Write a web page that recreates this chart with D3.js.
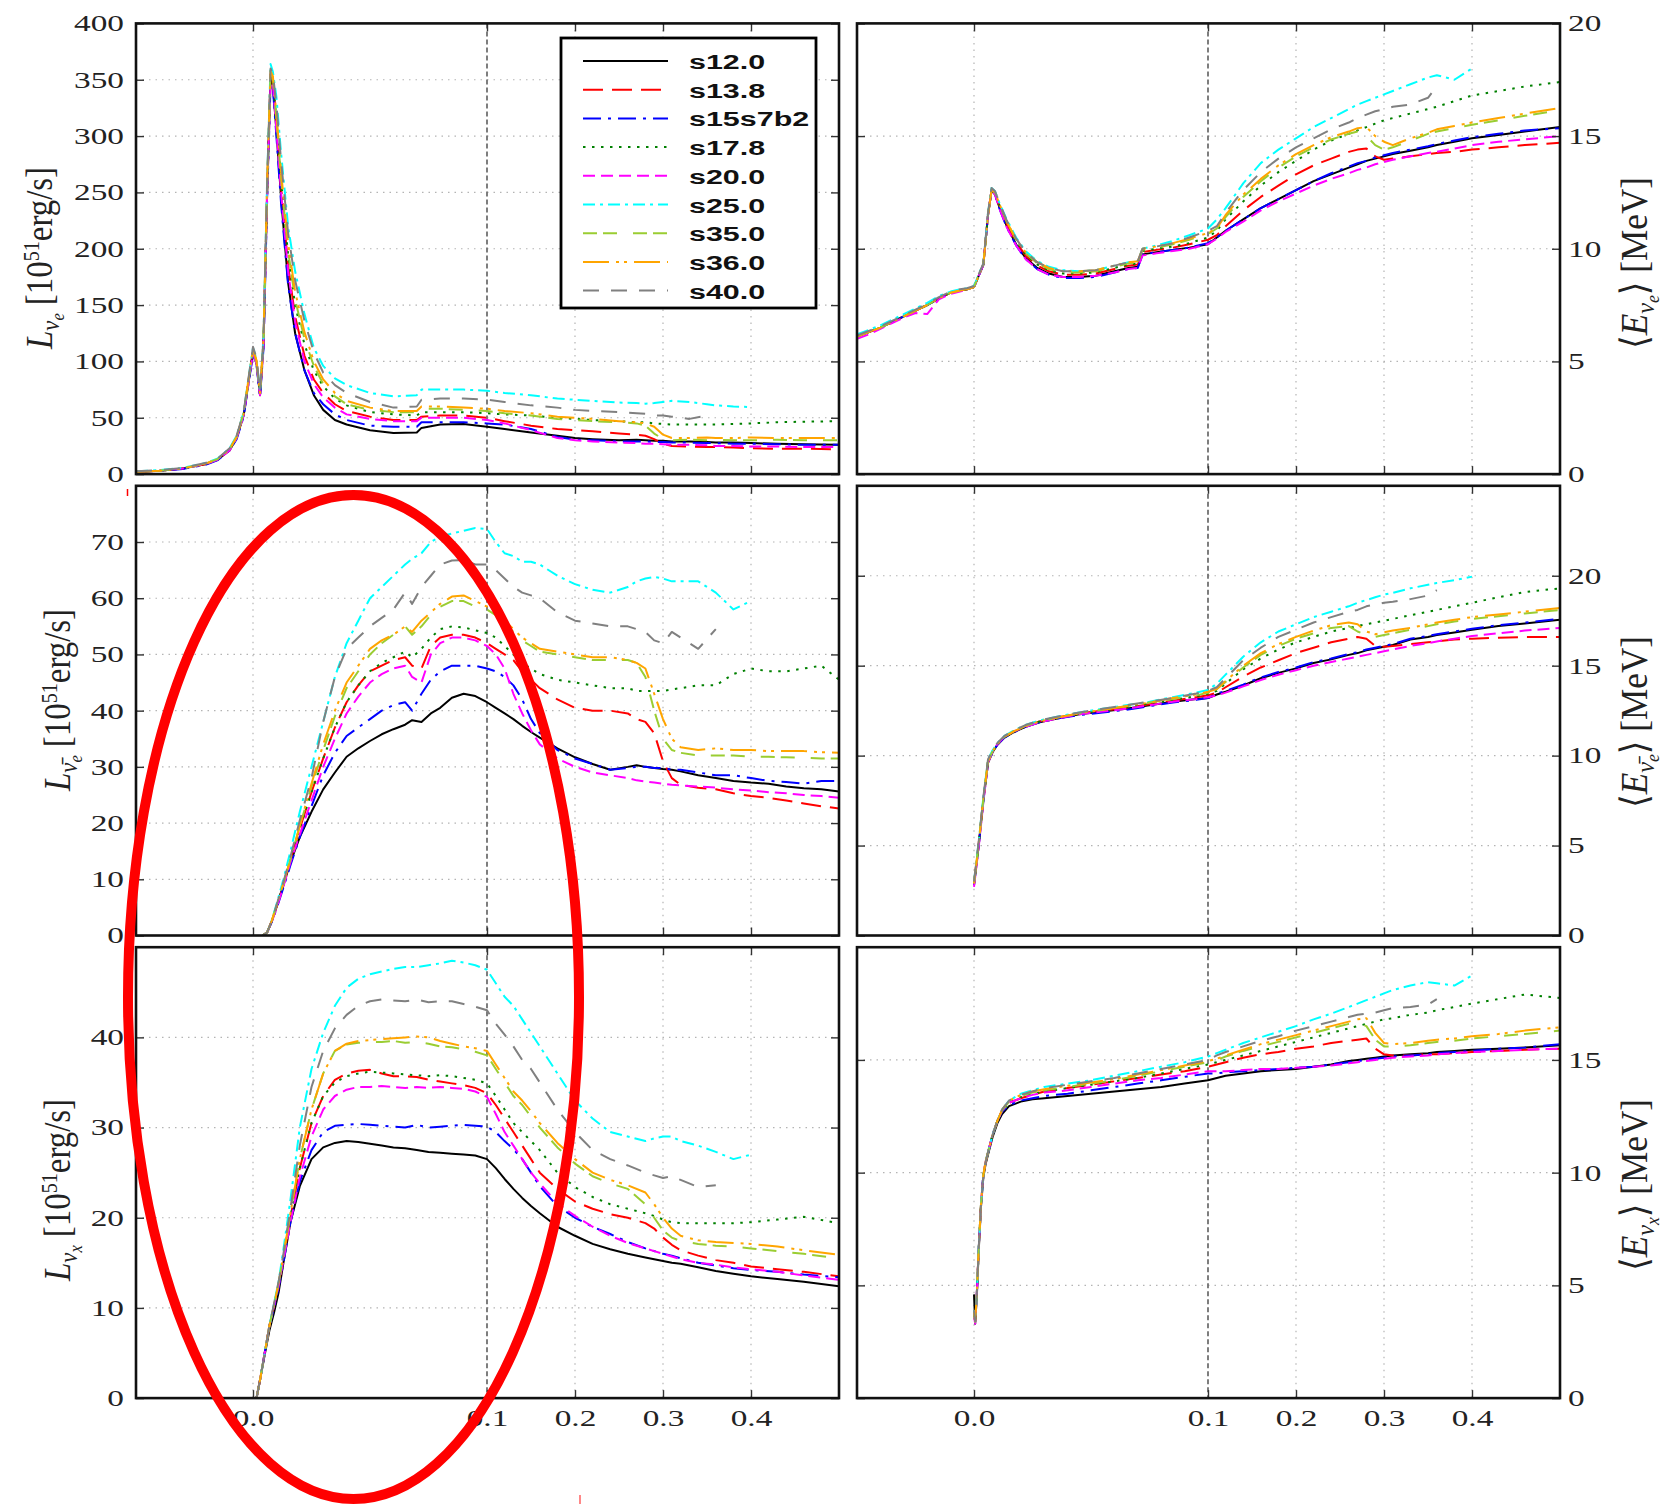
<!DOCTYPE html>
<html><head><meta charset="utf-8">
<script src="https://cdn.jsdelivr.net/npm/d3@7"></script>
<style>body{margin:0;background:#fff}</style>
</head><body>
<svg id="chart" width="1667" height="1504" xmlns="http://www.w3.org/2000/svg"></svg>
<script>
// ---------------- series meta ----------------
const seriesNames  = ["s12.0","s13.8","s15s7b2","s17.8","s20.0","s25.0","s35.0","s36.0","s40.0"];
const seriesColors = ["#000000","#ff0000","#0000ff","#008000","#ff00ff","#00ffff","#9acd32","#ffa500","#808080"];
const seriesDashes = ["none","20,9","18,7,3,7","2.5,6.5","12,6","12,5,3,5","14,6,14,16","26,7,3,5,3,7","16,12"];

// ---------------- tick labels ----------------
const xTickValues = [0.0, 0.1, 0.2, 0.3, 0.4];
const yTicksLumE = [0,50,100,150,200,250,300,350,400];
const yTicksLumA = [0,10,20,30,40,50,60,70];
const yTicksLumX = [0,10,20,30,40];
const yTicksEnE  = [0,5,10,15,20];
const yTicksEnA  = [0,5,10,15,20];
const yTicksEnX  = [0,5,10,15];

// ---------------- L_nu_e (top left) ----------------
const timeLumE = [-0.05,-0.04,-0.03,-0.02,-0.015,-0.01,-0.007,-0.004,-0.002,0,0.0015,0.003,0.0045,0.006,0.0075,0.0085,
  0.01,0.012,0.015,0.018,0.022,0.026,0.03,0.035,0.04,0.05,0.06,0.07,0.072,0.08,0.09,0.1,0.12,0.15,0.18,0.2,
  0.22,0.25,0.27,0.28,0.29,0.3,0.31,0.33,0.35,0.36,0.38,0.4,0.43,0.46,0.5];
const lumE_s12 = [2,3,5,9,13,21,32,52,80,108,98,70,115,245,350,345, 305,245,170,125,92,70,57,48,44,39,36.5,37,41,44,44.5,42,40,37,34,32,31,30,30.5,30,29.5,29.5,29,29,28.5,28,28,27.5,27,26.5,26];
const lumE_s13 = [2,3,5,9,13.5,22,33,53,82,110,100,71,118,250,355,350, 312,255,185,140,105,84,72,62,56,51,48,48,51,52,52,50,47,43,40,39,38,36,35,34,31,27,25,24.5,24,24,23.5,23,22.5,22.5,22];
const lumE_s15 = [2,3,4.5,8.5,12.5,21,31,51,79,106,97,68,112,240,345,342, 300,240,168,125,92,72,62,53,48,43,42,42,46,46,46,45,44,40,33,30.5,30,29,29,29,28.5,28.5,28,28,27.5,27.5,27,27,26.5,26,26];
const lumE_s17 = [2,3,5,9,13,22,33,53,81,109,99,71,117,248,353,349, 315,260,195,150,115,92,78,67,61,55,53,52,55,55,55,54,53,52,50,49,48,47,46,46,45,44.5,44,44,44,44,44.5,45,46,46.5,47];
const lumE_s20 = [2,3,5,9,13,21,32,52,80,107,98,70,114,244,348,346, 305,250,180,135,100,80,68,59,53,49,47,47,50,50,50,48,45,39,32,30,29,28,27.5,27,27,26.5,26,26,25.5,25,25,24.5,24.5,24,24];
const lumE_s25 = [2.5,3.5,5.5,10,14,23,34,55,84,112,102,73,122,258,364,357, 335,285,220,180,142,112,96,85,79,72,69,70,75,75,75,74,72,70,67,66,65,63.5,63,62.5,63,64,65,64,62,61,60,59.5,null,null,null];
const lumE_s35 = [2,3,5,9.5,13.5,22,33,54,82,110,100,72,119,252,357,352, 315,262,198,155,120,96,80,69,62,57,55,55,58,58,57,56,54,52,49,48,47,46,45,43,36,31,30,30.5,30,30.5,30,30,30.5,30,30];
const lumE_s36 = [2,3,5,9.5,13.5,22,33,54,83,111,101,72,120,254,358,353, 320,268,205,162,126,100,84,72,65,59,56,56,60,60,59,58,56,54,51,50,49,47,46,45,42,35,32,32,32.5,32,32,32.5,32,32,32];
const lumE_s40 = [2.5,3.5,5.5,10,14,23,34,55,84,113,103,73,121,256,360,355, 328,278,214,172,136,108,90,79,72,64,59,60,66,67,67,66,64,61,59,57,56,55,54,53.5,52,52,51,49,52,null,null,null,null,null,null];

// ---------------- L_anti-nu_e (middle left) ----------------
const timeLumA = [0.004,0.006,0.008,0.01,0.013,0.016,0.02,0.025,0.03,0.035,0.04,0.045,0.05,0.055,0.06,0.065,0.068,0.072,0.076,0.08,0.085,0.09,0.095,0.1,
  0.11,0.12,0.13,0.14,0.15,0.16,0.18,0.2,0.22,0.24,0.26,0.27,0.28,0.29,0.3,0.31,0.32,0.34,0.36,0.38,0.4,0.42,0.44,0.46,0.48,0.5];
const lumA_s12 = [0,0.5,2.5,5,9,13,17.5,22,26,29,31.8,33.3,34.6,35.8,36.7,37.5,38.3,38,39.5,40.5,42.3,43,42.6,41.5, 40.5,39.5,38.5,37.3,36.2,35.2,33.3,31.7,30.5,29.5,30,30.3,30,29.8,29.6,29.5,29.2,28.5,28,27.5,27.2,27,26.5,26.2,26,25.6];
const lumA_s13 = [0,0.5,2.5,5,9,13.5,19,25.5,31.5,37,41.5,44.5,47,48,49,49.5,48,47.5,51.5,53,53.5,53.5,53,52, 51,50,49,47,45.5,44,42,40.5,40,40,39.5,38.5,38,36,31,28,26.8,26.3,26,25.3,24.8,24.5,24,23.5,23,22.6];
const lumA_s15 = [0,0.5,2.4,4.7,8.5,12.5,17.5,23,28.5,32.5,35.5,37,38.5,40,41,41.5,40,43,45.5,47,48,48,48,47.5, 47,46,44.5,42,38.5,36,33,31.5,30.5,29.5,29.8,30,30,29.8,29.8,29.5,29.5,29,28.5,28.5,28,27.5,27.3,27,27.5,27.5];
const lumA_s17 = [0,0.5,2.5,5,9,13.5,19,25.5,31.5,37,41.5,44.5,47,48.5,49.5,50.5,49.5,51,53,54.5,55,54.8,54.3,53.8, 53,51.5,50,48.5,47.5,46.5,45.5,45,44.5,44,44,43.5,43.5,43.5,43.5,43.8,44,44.5,44.5,46.5,47.5,47,47,47.5,48,45.5];
const lumA_s20 = [0,0.5,2.4,4.8,8.7,13,18,24,30,35,39.5,42.5,45,46.5,47.5,48,46,45,50,52,53,53,52.5,51.5, 50,47.5,43,39.5,36.5,34,31.5,30,29,28.5,28,27.6,27.4,27.2,27,26.8,26.7,26.5,26.3,26,25.8,25.5,25.3,25,24.8,24.5];
const lumA_s25 = [0,0.5,2.7,5.5,10,15,22,30,38,46,52,56,60,62,64,66,67,68,70,71,71.5,72,72.5,72.3, 70,68,67.5,66.5,66.5,66,64,62.5,61.5,61,62,63,63.5,63.8,63.5,63,63,63,61,58,59.5,null,null,null,null,null];
const lumA_s35 = [0,0.5,2.6,5.2,9.3,13.5,19.5,26.5,33,39,44,47,50,52,53.5,55,53.5,55,57,58.5,59.5,59.5,58.5,58, 57,55.5,54,52.5,51.5,50.5,50,49.5,49,49,49,48.5,46,40,35,33,32.5,32,32,32,31.8,31.8,31.7,31.6,31.5,31.5];
const lumA_s36 = [0,0.5,2.6,5.2,9.3,13.5,19.5,27,34,40,45,48,51,52.5,53.5,55,54,56,57.5,59,60.3,60.5,59.5,58.5, 57.5,56,54.5,53,52,51,50.5,50,49.5,49.5,49,48.5,47.5,43,38.5,35,33.5,33,33.3,33,33,32.8,32.8,32.8,32.6,32.5];
const lumA_s40 = [0,0.5,2.6,5.3,9.5,14,20.5,28,38,46,51,53,55,56.5,58,61,59,62,64,66,66.7,66.8,66,66, 65,63.5,62,61,60.5,60,57.5,56,55.5,55,55,54.5,54,52.5,52,54,53,51,54.5,null,null,null,null,null,null,null];

// ---------------- L_nu_x (bottom left) ----------------
const timeLumX = [0.0015,0.003,0.005,0.007,0.009,0.011,0.013,0.016,0.02,0.025,0.03,0.035,0.04,0.045,0.05,0.055,0.06,0.065,0.07,0.075,0.08,0.085,0.09,0.095,0.1,
  0.11,0.12,0.13,0.14,0.15,0.16,0.18,0.2,0.22,0.24,0.26,0.28,0.29,0.3,0.31,0.32,0.34,0.36,0.38,0.4,0.43,0.46,0.5];
const lumX_s12 = [0,2,4.8,7.5,9.5,11.8,15,19.5,23.5,26.5,27.8,28.3,28.5,28.4,28.2,28,27.8,27.7,27.5,27.3,27.2,27.1,27,26.9,26.5,25.5,24.3,23.2,22.2,21.3,20.5,19,18,17.1,16.5,16,15.6,15.4,15.2,15,14.9,14.5,14.1,13.8,13.5,13.2,12.9,12.4];
const lumX_s13 = [0,2,5,8,10.3,12.7,15.5,20,25.5,30.5,33.5,35.3,36,36.3,36.4,36,35.7,35.7,35.6,35.3,35.1,34.9,34.7,34.4,33.8,32.5,31,29.5,28,26.5,25,23.2,21.8,21,20.4,20,19.4,18.8,17.8,17,16.4,15.8,15.3,15,14.6,14.3,14,13.5];
const lumX_s15 = [0,2,5,8,10,12.3,15,19.5,24,27.5,29.5,30.2,30.3,30.4,30.3,30.2,30.1,30,30.3,30,30.1,30.2,30.3,30.2,30.1,29.5,28.5,27.6,26.5,25,23.5,21.3,20,19,18.2,17.3,16.6,16.3,16,15.8,15.5,15,14.7,14.4,14.2,14,13.7,13.4];
const lumX_s17 = [0,2,5,8,10.3,12.7,15.5,20,25.5,30.5,33.5,35,35.7,36,36.2,36.1,36,35.9,35.8,35.7,35.8,35.7,35.5,35.3,34.9,33.5,32,30.5,29.5,28.5,27.5,25,23.4,22.3,21.5,21,20.5,20.2,19.8,19.5,19.4,19.4,19.4,19.4,19.5,19.8,20.1,19.4];
const lumX_s20 = [0,2,5,8,10.2,12.5,15.3,19.5,24.5,29,32,33.5,34.2,34.5,34.5,34.6,34.5,34.4,34.5,34.4,34.5,34.4,34.3,34,33.4,31.5,29.5,28,26.5,25,23.8,21.6,20.2,19,18,17.2,16.6,16.3,16,15.7,15.4,15,14.8,14.5,14.3,14,13.6,13.1];
const lumX_s25 = [0,2,5,8,10.5,13,16.5,22,30,36.5,40.5,43.5,45.5,46.5,47,47.3,47.6,47.8,47.8,48,48.2,48.5,48.3,48,47.5,46,44.5,43.5,42,40.5,39,36,33,31,29.5,29,28.5,28.8,29,29,28.5,28,27.3,26.5,27,null,null,null];
const lumX_s35 = [0,2,5,8,10.3,12.8,15.8,20.5,26.5,32,36,38.5,39.2,39.4,39.5,39.5,39.6,39.4,39.5,39.3,39,38.9,38.7,38.4,38,36.5,35,33.5,32.5,31.2,30,27.8,26,24.6,23.8,23.2,21.5,20,18.6,17.8,17.4,17.1,16.9,16.8,16.6,16.3,16,15.5];
const lumX_s36 = [0,2,5,8,10.3,12.8,15.8,20.5,26.5,32,36,38.5,39.3,39.6,39.7,39.8,39.9,40,40.1,40,39.6,39.3,39,38.8,38.5,37,35.5,34,33,31.8,30.5,28.3,26.5,25,24.2,23.6,22.8,21.5,20,18.8,18,17.5,17.3,17.2,17.1,16.8,16.4,15.9];
const lumX_s40 = [0,2,5,8,10.5,13,16,21,28,34.5,38.5,41,42.5,43.5,44,44.2,44.1,44,44.2,43.9,44,44,43.7,43.4,43,41.5,40.3,39,37.5,36.5,35,32,29.5,27.5,26.5,25.8,25,24.7,24.4,24.6,24.2,23.4,23.6,null,null,null,null,null];

// ---------------- <E_nu_e> (top right) ----------------
const timeEnE = [-0.05,-0.045,-0.04,-0.035,-0.03,-0.025,-0.02,-0.015,-0.01,-0.006,-0.003,0,0.002,0.004,0.006,0.0075,0.009,0.011,0.014,0.018,0.022,
  0.027,0.032,0.038,0.045,0.052,0.06,0.066,0.07,0.072,0.078,0.085,0.092,0.1,
  0.11,0.12,0.14,0.16,0.18,0.2,0.22,0.24,0.26,0.27,0.28,0.29,0.3,0.31,0.33,0.35,0.36,0.38,0.4,0.43,0.46,0.5];
const enE_s12 = [6.1,6.3,6.5,6.75,7.0,7.25,7.5,7.8,8.05,8.15,8.2,8.3,8.8,9.3,11.5,12.6,12.4,11.8,11.0,10.2,9.6,9.15,8.9,8.75,8.75,8.8,9.0,9.15,9.2,9.75,9.85,9.95,10.05,10.2,
  10.5,10.8,11.3,11.8,12.2,12.6,13.0,13.3,13.6,13.75,13.9,14.0,14.1,14.2,14.35,14.5,14.6,14.75,14.9,15.05,15.2,15.4];
const enE_s13 = [6.1,6.3,6.5,6.75,7.0,7.25,7.5,7.8,8.05,8.15,8.2,8.3,8.8,9.3,11.5,12.6,12.45,11.85,11.1,10.3,9.7,9.25,9.0,8.85,8.85,8.9,9.1,9.25,9.3,9.85,9.95,10.05,10.2,10.4,
  10.6,11.0,11.7,12.3,12.8,13.3,13.7,14.0,14.3,14.4,14.45,14.1,13.95,14.0,14.1,14.2,14.25,14.3,14.4,14.5,14.6,14.7];
const enE_s15 = [6.1,6.3,6.5,6.75,7.0,7.25,7.5,7.8,8.05,8.15,8.2,8.3,8.8,9.3,11.5,12.6,12.4,11.75,10.95,10.15,9.55,9.1,8.85,8.7,8.7,8.75,8.95,9.1,9.15,9.75,9.85,9.95,10.05,10.25,
  10.5,10.8,11.3,11.8,12.2,12.6,13.0,13.35,13.65,13.8,13.9,14.05,14.15,14.25,14.4,14.55,14.65,14.8,14.95,15.1,15.25,15.35];
const enE_s17 = [6.1,6.3,6.5,6.75,7.0,7.25,7.5,7.8,8.05,8.15,8.2,8.3,8.8,9.3,11.5,12.6,12.45,11.9,11.15,10.35,9.75,9.3,9.05,8.9,8.9,8.95,9.15,9.3,9.35,9.9,10.0,10.1,10.25,10.5,
  10.8,11.3,12.1,12.8,13.4,13.9,14.4,14.8,15.1,15.25,15.4,15.55,15.7,15.8,16.0,16.2,16.3,16.55,16.8,17.0,17.2,17.4];
const enE_s20 = [6.0,6.2,6.45,6.7,6.95,7.15,7.1,7.75,8.0,8.1,8.2,8.3,8.8,9.3,11.5,12.6,12.4,11.75,10.95,10.15,9.55,9.1,8.85,8.75,8.75,8.8,8.95,9.1,9.15,9.7,9.8,9.9,10.0,10.2,
  10.45,10.75,11.2,11.7,12.1,12.45,12.8,13.1,13.35,13.5,13.6,13.75,13.85,13.95,14.1,14.25,14.3,14.45,14.6,14.75,14.85,15.0];
const enE_s25 = [6.2,6.4,6.6,6.85,7.1,7.35,7.6,7.9,8.1,8.2,8.25,8.35,8.85,9.35,11.6,12.7,12.55,12.0,11.3,10.5,9.9,9.45,9.2,9.05,9.0,9.05,9.25,9.4,9.45,10.0,10.15,10.35,10.6,10.9,
  11.3,11.8,12.9,13.8,14.4,14.9,15.4,15.8,16.2,16.4,16.55,16.7,16.85,17.0,17.3,17.6,17.7,17.5,18.0,null,null,null];
const enE_s35 = [6.1,6.3,6.5,6.75,7.0,7.25,7.5,7.8,8.05,8.15,8.2,8.3,8.8,9.3,11.5,12.6,12.5,11.95,11.2,10.4,9.8,9.35,9.1,8.95,8.95,9.0,9.2,9.35,9.4,9.95,10.05,10.2,10.4,10.65,
  10.9,11.4,12.3,13.0,13.6,14.1,14.5,14.85,15.1,15.2,15.0,14.6,14.4,14.5,14.8,15.1,15.2,15.35,15.5,15.7,15.9,16.15];
const enE_s36 = [6.1,6.3,6.5,6.75,7.0,7.25,7.5,7.8,8.05,8.15,8.2,8.3,8.8,9.3,11.5,12.6,12.5,11.95,11.2,10.4,9.85,9.4,9.15,9.0,9.0,9.05,9.25,9.4,9.45,10.0,10.1,10.25,10.45,10.7,
  10.9,11.5,12.4,13.1,13.7,14.2,14.6,14.95,15.2,15.35,15.4,15.0,14.75,14.6,14.9,15.15,15.3,15.45,15.6,15.8,16.0,16.25];
const enE_s40 = [6.15,6.35,6.55,6.8,7.05,7.3,7.55,7.85,8.1,8.2,8.25,8.35,8.85,9.35,11.6,12.7,12.55,12.0,11.25,10.45,9.85,9.4,9.15,9.0,9.0,9.05,9.25,9.4,9.45,10.0,10.1,10.25,10.5,10.8,
  11.0,11.6,12.6,13.4,14.0,14.5,14.9,15.3,15.6,15.8,15.95,16.1,16.2,16.3,16.4,16.7,17.2,null,null,null,null,null];

// ---------------- <E_anti-nu_e> (middle right) ----------------
const timeEnA = [0,0.002,0.004,0.006,0.008,0.01,0.013,0.017,0.022,0.028,0.035,0.045,0.055,0.065,0.075,0.085,0.095,0.1,
  0.11,0.12,0.14,0.16,0.18,0.2,0.22,0.24,0.26,0.27,0.28,0.29,0.3,0.31,0.33,0.35,0.36,0.38,0.4,0.43,0.46,0.5];
const enA_s12 = [2.8,5.0,7.5,9.6,10.2,10.6,11.0,11.3,11.6,11.85,12.05,12.3,12.45,12.6,12.8,13.0,13.15,13.2,
  13.4,13.55,13.9,14.3,14.6,14.85,15.15,15.35,15.6,15.7,15.85,15.95,16.05,16.15,16.45,16.6,16.7,16.85,17.0,17.2,17.35,17.55];
const enA_s13 = [2.9,5.1,7.6,9.7,10.25,10.65,11.05,11.35,11.65,11.9,12.1,12.35,12.5,12.65,12.85,13.05,13.25,13.35,
  13.5,13.8,14.4,14.9,15.3,15.7,16.0,16.3,16.5,16.6,16.5,16.1,16.05,16.1,16.2,16.3,16.35,16.45,16.5,16.55,16.6,16.6];
const enA_s15 = [2.8,5.0,7.5,9.6,10.2,10.6,11.0,11.3,11.6,11.85,12.05,12.25,12.4,12.55,12.75,12.95,13.1,13.2,
  13.45,13.6,13.95,14.35,14.65,14.9,15.2,15.4,15.65,15.75,15.9,16.0,16.1,16.2,16.5,16.65,16.75,16.9,17.05,17.25,17.4,17.6];
const enA_s17 = [2.9,5.1,7.6,9.7,10.25,10.65,11.05,11.35,11.65,11.9,12.1,12.35,12.5,12.7,12.9,13.1,13.3,13.45,
  13.6,14.0,14.8,15.4,15.9,16.3,16.6,16.9,17.1,17.2,17.3,17.4,17.5,17.6,17.8,18.0,18.1,18.3,18.5,18.8,19.1,19.3];
const enA_s20 = [2.7,4.9,7.4,9.6,10.25,10.65,11.05,11.35,11.6,11.85,12.05,12.3,12.45,12.6,12.8,13.0,13.15,13.25,
  13.35,13.5,13.85,14.2,14.5,14.75,15.0,15.2,15.4,15.5,15.6,15.7,15.8,15.9,16.1,16.25,16.35,16.5,16.65,16.8,16.95,17.1];
const enA_s25 = [3.0,5.2,7.7,9.8,10.3,10.7,11.1,11.4,11.7,11.95,12.15,12.4,12.6,12.8,13.0,13.25,13.5,13.65,
  14.0,14.5,15.5,16.3,16.9,17.3,17.7,18.0,18.3,18.5,18.65,18.8,18.95,19.05,19.3,19.5,19.6,19.75,19.95,null,null,null];
const enA_s35 = [2.9,5.1,7.6,9.7,10.25,10.65,11.05,11.35,11.65,11.9,12.1,12.35,12.55,12.75,12.95,13.15,13.35,13.5,
  13.7,14.1,14.9,15.6,16.1,16.5,16.8,17.1,17.2,16.9,16.7,16.6,16.7,16.8,17.0,17.2,17.3,17.45,17.6,17.75,17.9,18.1];
const enA_s36 = [2.9,5.1,7.6,9.7,10.25,10.65,11.05,11.35,11.65,11.9,12.1,12.35,12.55,12.75,12.95,13.2,13.4,13.55,
  13.7,14.15,15.0,15.7,16.2,16.6,16.95,17.25,17.4,17.3,16.9,16.75,16.85,16.95,17.1,17.3,17.4,17.55,17.7,17.85,18.0,18.2];
const enA_s40 = [3.0,5.2,7.7,9.8,10.3,10.7,11.1,11.4,11.7,11.95,12.15,12.4,12.6,12.8,13.0,13.2,13.45,13.6,
  13.8,14.3,15.3,16.0,16.6,17.0,17.4,17.7,18.0,18.1,18.3,18.4,18.5,18.55,18.7,18.9,19.2,null,null,null,null,null];

// ---------------- <E_nu_x> (bottom right) ----------------
const timeEnX = [0,0.0005,0.0012,0.002,0.003,0.004,0.005,0.0065,0.008,0.01,0.012,0.015,0.02,0.025,0.03,0.04,0.05,0.06,0.07,0.08,0.09,0.1,
  0.11,0.12,0.14,0.16,0.18,0.2,0.22,0.24,0.26,0.27,0.28,0.29,0.3,0.31,0.33,0.35,0.36,0.38,0.4,0.43,0.46,0.5];
const enX_s12 = [4.6,3.3,4.5,6.5,8.5,9.8,10.4,11.0,11.6,12.2,12.6,12.95,13.15,13.25,13.3,13.4,13.5,13.6,13.7,13.8,13.95,14.1,
  14.2,14.3,14.4,14.5,14.55,14.6,14.7,14.8,14.95,15.0,15.05,15.1,15.15,15.2,15.25,15.3,15.35,15.4,15.45,15.5,15.55,15.65];
const enX_s13 = [3.7,3.4,4.6,6.6,8.6,9.9,10.5,11.1,11.7,12.3,12.75,13.1,13.3,13.45,13.6,13.75,13.9,14.05,14.2,14.35,14.5,14.7,
  14.8,14.9,15.1,15.25,15.35,15.5,15.6,15.75,15.85,15.9,15.95,15.5,15.25,15.2,15.2,15.25,15.25,15.3,15.35,15.4,15.45,15.5];
const enX_s15 = [3.8,3.4,4.6,6.6,8.6,9.9,10.5,11.1,11.7,12.3,12.7,13.0,13.2,13.3,13.4,13.5,13.65,13.8,13.95,14.1,14.25,14.4,
  14.4,14.45,14.5,14.55,14.6,14.65,14.7,14.8,14.9,14.95,15.0,15.05,15.1,15.15,15.2,15.25,15.3,15.35,15.4,15.5,15.55,15.7];
const enX_s17 = [3.7,3.4,4.6,6.6,8.6,9.9,10.5,11.1,11.7,12.3,12.75,13.1,13.35,13.5,13.6,13.75,13.9,14.05,14.2,14.4,14.6,14.8,
  14.9,15.0,15.2,15.4,15.6,15.8,16.0,16.2,16.4,16.5,16.6,16.7,16.8,16.85,17.0,17.1,17.2,17.35,17.5,17.7,17.9,17.75];
const enX_s20 = [3.6,3.3,4.6,6.6,8.6,9.9,10.5,11.1,11.7,12.3,12.75,13.1,13.3,13.45,13.55,13.65,13.8,13.95,14.1,14.2,14.35,14.5,
  14.5,14.5,14.55,14.6,14.6,14.65,14.7,14.75,14.85,14.9,14.95,15.0,15.05,15.1,15.15,15.2,15.25,15.3,15.35,15.4,15.45,15.5];
const enX_s25 = [3.9,3.4,4.6,6.6,8.6,9.9,10.5,11.1,11.7,12.3,12.8,13.2,13.5,13.65,13.8,13.95,14.1,14.3,14.5,14.7,14.9,15.15,
  15.3,15.45,15.75,16.0,16.25,16.5,16.8,17.05,17.35,17.5,17.65,17.8,17.95,18.1,18.3,18.45,18.4,18.3,18.75,null,null,null];
const enX_s35 = [3.8,3.4,4.6,6.6,8.6,9.9,10.5,11.1,11.7,12.3,12.75,13.15,13.4,13.55,13.65,13.8,13.95,14.1,14.3,14.5,14.7,14.9,
  15.0,15.15,15.4,15.6,15.8,16.0,16.2,16.4,16.6,16.65,16.5,15.9,15.6,15.6,15.65,15.75,15.8,15.85,15.95,16.05,16.15,16.3];
const enX_s36 = [3.8,3.4,4.6,6.6,8.6,9.9,10.5,11.1,11.7,12.3,12.8,13.2,13.45,13.6,13.7,13.85,14.0,14.15,14.35,14.55,14.75,14.95,
  15.05,15.2,15.45,15.7,15.9,16.1,16.3,16.5,16.7,16.8,16.85,16.2,15.75,15.7,15.75,15.85,15.9,15.95,16.05,16.15,16.3,16.45];
const enX_s40 = [3.9,3.4,4.6,6.6,8.6,9.9,10.5,11.1,11.7,12.3,12.8,13.2,13.45,13.6,13.75,13.9,14.05,14.2,14.4,14.6,14.8,15.0,
  15.2,15.35,15.6,15.85,16.05,16.3,16.5,16.7,16.9,17.0,17.05,17.1,17.2,17.3,17.35,17.45,17.7,null,null,null,null,null];

// ---------------- layout ----------------
const svg = d3.select("#chart");
const SX = 1.45;               // horizontal stretch of the lettering in the original
const SERIF = "'Liberation Serif','DejaVu Serif',serif";
const cols = { L: [136, 839], R: [857, 1560] };
const rows = [[23.4, 474.1], [485.8, 935.5], [947.2, 1398.1]];

const panels = [
  { col:"L", row:0, t:timeLumE, data:[lumE_s12,lumE_s13,lumE_s15,lumE_s17,lumE_s20,lumE_s25,lumE_s35,lumE_s36,lumE_s40], yMax:400, yTicks:yTicksLumE },
  { col:"L", row:1, t:timeLumA, data:[lumA_s12,lumA_s13,lumA_s15,lumA_s17,lumA_s20,lumA_s25,lumA_s35,lumA_s36,lumA_s40], yMax:80,  yTicks:yTicksLumA },
  { col:"L", row:2, t:timeLumX, data:[lumX_s12,lumX_s13,lumX_s15,lumX_s17,lumX_s20,lumX_s25,lumX_s35,lumX_s36,lumX_s40], yMax:50,  yTicks:yTicksLumX },
  { col:"R", row:0, t:timeEnE,  data:[enE_s12,enE_s13,enE_s15,enE_s17,enE_s20,enE_s25,enE_s35,enE_s36,enE_s40], yMax:20, yTicks:yTicksEnE },
  { col:"R", row:1, t:timeEnA,  data:[enA_s12,enA_s13,enA_s15,enA_s17,enA_s20,enA_s25,enA_s35,enA_s36,enA_s40], yMax:25, yTicks:yTicksEnA },
  { col:"R", row:2, t:timeEnX,  data:[enX_s12,enX_s13,enX_s15,enX_s17,enX_s20,enX_s25,enX_s35,enX_s36,enX_s40], yMax:20, yTicks:yTicksEnX },
];

function stretchAxisText(g, fs) {
  g.selectAll(".domain").remove();
  g.attr("font-family", SERIF).attr("font-size", fs);
  g.selectAll(".tick line").attr("stroke", "#333").attr("stroke-width", 1.4);
  g.selectAll(".tick text").attr("fill", "#222").each(function() {
    const t = d3.select(this);
    const x0 = +t.attr("x") || 0;
    t.attr("x", x0 / SX).attr("transform", `scale(${SX},1)`);
  });
}

panels.forEach((p, pi) => {
  const [x0, x1] = cols[p.col];
  const [y0, y1] = rows[p.row];
  const x = d3.scaleLinear().domain([-0.05, 0, 0.1, 0.5]).range([x0, x0 + 117, x0 + 351, x1]);
  const y = d3.scaleLinear().domain([0, p.yMax]).range([y1, y0]);
  const g = svg.append("g");

  const clipId = "clip" + pi;
  svg.append("clipPath").attr("id", clipId).append("rect")
    .attr("x", x0).attr("y", y0).attr("width", x1 - x0).attr("height", y1 - y0);

  // grid
  const grid = g.append("g").attr("stroke", "#b4b4b4").attr("stroke-width", 1.2).attr("stroke-dasharray", "1.5,5");
  xTickValues.filter(v => v !== 0.1).forEach(v =>
    grid.append("line").attr("x1", x(v)).attr("x2", x(v)).attr("y1", y0).attr("y2", y1));
  p.yTicks.filter(v => v > 0 && v < p.yMax).forEach(v =>
    grid.append("line").attr("x1", x0).attr("x2", x1).attr("y1", y(v)).attr("y2", y(v)));

  // dashed marker at t = 0.1
  g.append("line").attr("x1", x(0.1)).attr("x2", x(0.1)).attr("y1", y0).attr("y2", y1)
    .attr("stroke", "#707070").attr("stroke-width", 1.8).attr("stroke-dasharray", "5,3");

  // series
  const line = d3.line().defined(d => d[1] != null).x(d => x(d[0])).y(d => y(d[1]));
  const lg = g.append("g").attr("clip-path", `url(#${clipId})`);
  p.data.forEach((vals, si) => {
    const pts = p.t.map((tt, i) => [tt, vals[i]]);
    lg.append("path").attr("d", line(pts)).attr("fill", "none")
      .attr("stroke", seriesColors[si]).attr("stroke-width", 2)
      .attr("stroke-dasharray", seriesDashes[si]).attr("stroke-linejoin", "round");
  });

  // axes (inward ticks on all sides)
  const fmtNone = () => "";
  const gb = g.append("g").attr("transform", `translate(0,${y1})`)
    .call(d3.axisBottom(x).tickValues(xTickValues).tickSize(-8).tickPadding(12)
      .tickFormat(p.row === 2 ? d3.format(".1f") : fmtNone));
  stretchAxisText(gb, 23);
  const gt = g.append("g").attr("transform", `translate(0,${y0})`)
    .call(d3.axisTop(x).tickValues(xTickValues).tickSize(-8).tickFormat(fmtNone));
  stretchAxisText(gt, 23);
  const gl = g.append("g").attr("transform", `translate(${x0},0)`)
    .call(d3.axisLeft(y).tickValues(p.yTicks).tickSize(-8).tickPadding(12)
      .tickFormat(p.col === "L" ? d3.format("d") : fmtNone));
  stretchAxisText(gl, 23);
  const gr = g.append("g").attr("transform", `translate(${x1},0)`)
    .call(d3.axisRight(y).tickValues(p.yTicks).tickSize(-8).tickPadding(8)
      .tickFormat(p.col === "R" ? d3.format("d") : fmtNone));
  stretchAxisText(gr, 23);

  // frame
  g.append("rect").attr("x", x0).attr("y", y0).attr("width", x1 - x0).attr("height", y1 - y0)
    .attr("fill", "none").attr("stroke", "#111").attr("stroke-width", 2.6);
});

// ---------------- axis titles ----------------
// parts: [text, fontSize, dy, italic]
function rotLabel(cx, cy, parts, len) {
  const t = svg.append("text")
    .attr("transform", `translate(${cx},${cy}) scale(${SX},1) rotate(-90)`)
    .attr("text-anchor", "middle").attr("font-family", SERIF).attr("fill", "#222")
    .attr("textLength", len).attr("lengthAdjust", "spacingAndGlyphs");
  parts.forEach(([s, fs, dy, it]) => {
    t.append("tspan").text(s).attr("font-size", fs).attr("dy", dy)
      .attr("font-style", it ? "italic" : "normal");
  });
}
const lumLabel = nu => [["L",26,0,true],[nu,18,5,true],["e",13,3,true],[" [10",26,-8,false],["51",16,-9,false],["erg/s]",26,9,false]];
const lumLabelX = [["L",26,0,true],["ν",18,5,true],["x",13,3,true],[" [10",26,-8,false],["51",16,-9,false],["erg/s]",26,9,false]];
rotLabel(52, 258, lumLabel("ν"), 182);
rotLabel(70, 700, lumLabel("ν\u0304"), 182);
rotLabel(70, 1190, lumLabelX, 182);
const enLabel = (nu, sub) => [["\u27E8",26,0,false],["E",26,0,true],[nu,18,5,true],[sub,13,3,true],["\u27E9 [MeV]",26,-8,false]];
rotLabel(1647, 263, enLabel("ν","e"), 172);
rotLabel(1647, 722, enLabel("ν\u0304","e"), 172);
rotLabel(1647, 1185, enLabel("ν","x"), 172);

// ---------------- legend ----------------
const leg = svg.append("g");
leg.append("rect").attr("x", 561).attr("y", 38).attr("width", 255).attr("height", 270)
  .attr("fill", "#fff").attr("stroke", "#000").attr("stroke-width", 2.8);
seriesNames.forEach((nm, i) => {
  const yy = 61 + i * 28.7;
  leg.append("line").attr("x1", 583).attr("x2", 668).attr("y1", yy).attr("y2", yy)
    .attr("stroke", seriesColors[i]).attr("stroke-width", 2).attr("stroke-dasharray", seriesDashes[i]);
  leg.append("text").attr("transform", `translate(689,${yy + 8}) scale(${SX},1)`)
    .attr("font-family", "'Liberation Sans',Arial,sans-serif").attr("font-weight", "bold")
    .attr("font-size", 21).attr("fill", "#111").text(nm);
});

// ---------------- red annotation ----------------
svg.append("ellipse").attr("cx", 353.5).attr("cy", 997).attr("rx", 225.5).attr("ry", 502)
  .attr("fill", "none").attr("stroke", "#ff0000").attr("stroke-width", 10);
svg.append("line").attr("x1", 127.5).attr("x2", 127.5).attr("y1", 489).attr("y2", 496).attr("stroke", "#ff0000").attr("stroke-width", 1.5);
svg.append("line").attr("x1", 580).attr("x2", 580).attr("y1", 1495).attr("y2", 1504).attr("stroke", "#ff6060").attr("stroke-width", 1.5);
</script>
</body></html>
